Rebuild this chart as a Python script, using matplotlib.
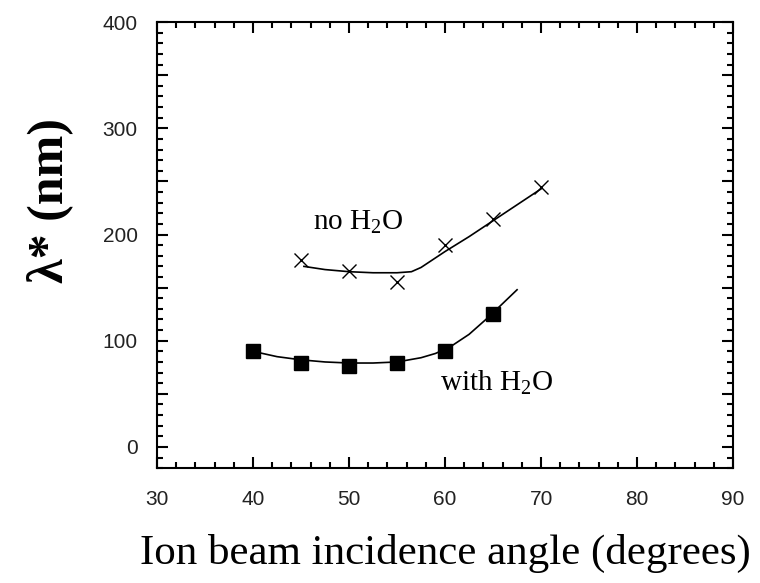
import matplotlib.pyplot as plt
from matplotlib.ticker import MultipleLocator, FuncFormatter

# measured points
angle_with = [40, 45, 50, 55, 60, 65]
lam_with = [90, 79, 76, 79, 90, 125]
angle_no = [45, 50, 55, 60, 65, 70]
lam_no = [176, 166, 155, 190, 215, 245]

# smooth guide curves
fit_with_x = [40, 42.5, 45, 47.5, 50, 52.5, 55, 57.5, 59, 60.5, 62.5, 64.5, 66, 67.5]
fit_with_y = [90, 85, 82, 80, 79, 79, 80, 84, 88, 94, 106, 122, 135, 148]
fit_no_x = [45.3, 47.5, 50, 52.5, 55, 56.5, 57.5, 58.5, 60, 62.5, 65, 67.5, 70]
fit_no_y = [170, 167, 165, 164, 164, 165, 169, 175, 184, 198, 213, 228, 243]

plt.rcParams['font.family'] = ['Liberation Serif', 'DejaVu Serif']
plt.rcParams['mathtext.fontset'] = 'custom'
plt.rcParams['mathtext.rm'] = 'Liberation Serif'
plt.rcParams['mathtext.it'] = 'Liberation Serif:italic'

fig = plt.figure(figsize=(7.6, 5.83), dpi=100)
ax = fig.add_axes([0.2066, 0.197, 0.758, 0.765])

ax.plot(fit_with_x, fit_with_y, "k-", lw=1.2)
ax.plot(fit_no_x, fit_no_y, "k-", lw=1.2)
ax.plot(angle_with, lam_with, "ks", ms=10.5, ls="none")
ax.plot(angle_no, lam_no, "kx", ms=10, mew=1.0, ls="none")

ax.text(46.2, 211, r"no H$_\mathrm{2}$O", fontsize=21, va="center", ha="left")
ax.text(59.5, 60, r"with H$_\mathrm{2}$O", fontsize=21, va="center", ha="left")

ax.set_xlim(30, 90)
ax.set_ylim(-20, 400)
ax.xaxis.set_major_locator(MultipleLocator(10))
ax.xaxis.set_minor_locator(MultipleLocator(2))
ax.yaxis.set_major_locator(MultipleLocator(50))
ax.yaxis.set_minor_locator(MultipleLocator(10))
ax.yaxis.set_major_formatter(FuncFormatter(lambda v, p: "%d" % v if v % 100 == 0 else ""))

ax.tick_params(which="both", direction="in", top=True, right=True, width=1.5)
ax.tick_params(which="major", length=8, labelsize=15)
ax.tick_params(axis="x", which="major", pad=16)
ax.tick_params(axis="y", which="major", pad=14)
ax.tick_params(which="minor", length=4)
for lab in ax.get_xticklabels() + ax.get_yticklabels():
    lab.set_family("Liberation Sans")
    lab.set_color("#222222")
for s in ax.spines.values():
    s.set_linewidth(1.5)

ax.set_xlabel("Ion beam incidence angle (degrees)", fontsize=31, labelpad=18)
ax.set_ylabel("λ* (nm)", fontsize=36, fontweight="bold")
ax.yaxis.set_label_coords(-0.145, 0.60)

plt.savefig("out.png", dpi=100)
plt.close()
